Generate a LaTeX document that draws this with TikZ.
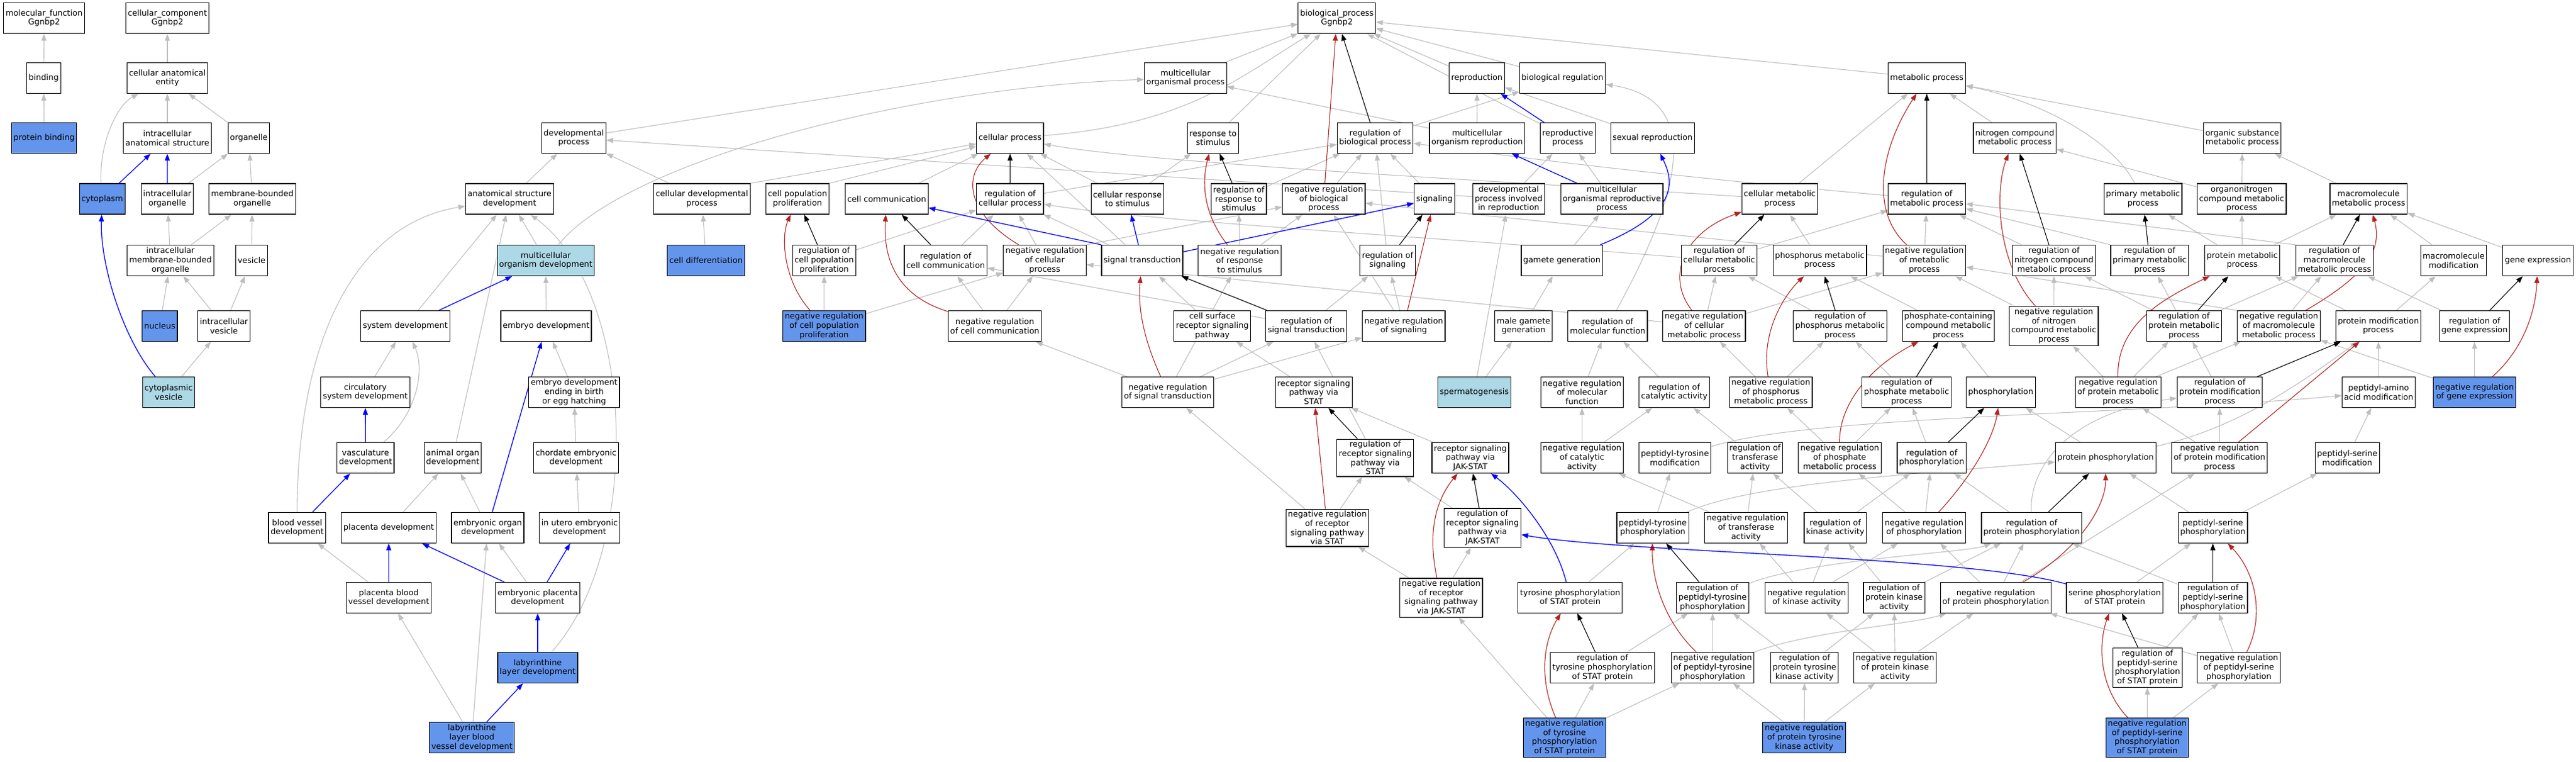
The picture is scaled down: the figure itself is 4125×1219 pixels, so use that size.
\documentclass[tikz,border=0pt]{standalone}
\usepackage{fontspec}
\newfontfamily\dejavu{DejaVu Sans}
\usetikzlibrary{arrows.meta}
\pgfdeclarelayer{bglayer}
\pgfdeclarelayer{edgelayer}
\pgfsetlayers{bglayer,edgelayer,main}
\definecolor{egray}{RGB}{190,190,190}
\definecolor{ered}{RGB}{178,34,34}
\definecolor{eblue}{RGB}{0,0,255}
\definecolor{nblue}{RGB}{100,149,237}
\definecolor{nlight}{RGB}{173,216,230}
\tikzset{
  box/.style={draw=black, line width=1.2pt, fill=white, align=center, inner xsep=3.2pt, inner ysep=3pt, minimum height=49pt, font={\dejavu\fontsize{12.9pt}{14.6pt}\selectfont}},
  hit/.style={box, fill=nblue},
  lit/.style={box, fill=nlight},
  arrowtip/.style={-{Triangle[length=11pt,width=8pt]}},
  eg/.style={draw=egray, line width=1.1pt, arrowtip},
  ek/.style={draw=black, line width=1.1pt, arrowtip},
  er/.style={draw=ered, line width=1.1pt, arrowtip},
  eb/.style={draw=eblue, line width=1.3pt, arrowtip}
}
\begin{document}
\begin{tikzpicture}[x=1pt,y=-1pt]
\begin{pgfonlayer}{bglayer}
\fill[white] (0,0) rectangle (4125,1219);
\end{pgfonlayer}
\useasboundingbox (0,0) rectangle (4125,1219);
% row 0
\node[box] (mf) at (70.6,29) {molecular\_function\\Ggnbp2};
\node[box] (cc0) at (268,29) {cellular\_component\\Ggnbp2};
\node[box] (bp) at (2140.8,29) {biological\_process\\Ggnbp2};
% row 1
\node[box] (bind) at (70,125) {binding};
\node[box] (cae) at (268,125) {cellular anatomical\\entity};
\node[box] (mop) at (1898.3,125) {multicellular\\organismal process};
\node[box] (repro) at (2365,125) {reproduction};
\node[box] (breg) at (2502,125) {biological regulation};
\node[box] (mp) at (3085.4,125) {metabolic process};
% row 2
\node[hit] (pbind) at (70.6,221) {protein binding};
\node[box] (ias) at (268,221) {intracellular\\anatomical structure};
\node[box] (org) at (398.5,221) {organelle};
\node[box] (dp) at (918.7,221) {developmental\\process};
\node[box] (cp) at (1617.4,221) {cellular process};
\node[box] (rs) at (1942.5,221) {response to\\stimulus};
\node[box] (rbp) at (2202,221) {regulation of\\biological process};
\node[box] (mor) at (2365.3,221) {multicellular\\organism reproduction};
\node[box] (rp) at (2510.5,221) {reproductive\\process};
\node[box] (sr) at (2646.3,221) {sexual reproduction};
\node[box] (ncmp) at (3226.3,221) {nitrogen compound\\metabolic process};
\node[box] (osmp) at (3590.5,221) {organic substance\\metabolic process};
% row 3
\node[hit] (cyto) at (163.7,318.5) {cytoplasm};
\node[box] (io) at (267.9,318.5) {intracellular\\organelle};
\node[box] (mbo) at (404,318.5) {membrane-bounded\\organelle};
\node[box] (asd) at (816,318.5) {anatomical structure\\development};
\node[box] (cdp) at (1124,318.5) {cellular developmental\\process};
\node[box] (cpp) at (1277,318.5) {cell population\\proliferation};
\node[box] (ccom) at (1419.9,318.5) {cell communication};
\node[box] (rcp) at (1617.4,318.5) {regulation of\\cellular process};
\node[box] (crs) at (1805.3,318.5) {cellular response\\to stimulus};
\node[box] (rrs) at (1983.7,318.5) {regulation of\\response to\\stimulus};
\node[box] (nrbp) at (2119.7,318.5) {negative regulation\\of biological\\process};
\node[box] (sig) at (2297,318.5) {signaling};
\node[box] (dpir) at (2415.8,318.5) {developmental\\process involved\\in reproduction};
\node[box] (morp) at (2581,318.5) {multicellular\\organismal reproductive\\process};
\node[box] (cmp) at (2850,318.5) {cellular metabolic\\process};
\node[box] (rmp) at (3085.4,318.5) {regulation of\\metabolic process};
\node[box] (pmp) at (3431.5,318.5) {primary metabolic\\process};
\node[box] (oncmp) at (3589.7,318.5) {organonitrogen\\compound metabolic\\process};
\node[box] (mmp) at (3792.8,318.5) {macromolecule\\metabolic process};
% row 4
\node[box] (imbo) at (273,417) {intracellular\\membrane-bounded\\organelle};
\node[box] (ves) at (402.8,417) {vesicle};
\node[lit] (mod) at (874,417) {multicellular\\organism development};
\node[hit] (cdiff) at (1130.6,417) {cell differentiation};
\node[box] (rcpp) at (1319.8,417) {regulation of\\cell population\\proliferation};
\node[box] (rcc) at (1514.3,417) {regulation of\\cell communication};
\node[box] (nrcp) at (1673,417) {negative regulation\\of cellular\\process};
\node[box] (st) at (1829,417) {signal transduction};
\node[box] (nrrs) at (1985,417) {negative regulation\\of response\\to stimulus};
\node[box] (rsig) at (2222,417) {regulation of\\signaling};
\node[box] (gg) at (2501,417) {gamete generation};
\node[box] (rcmp) at (2753,417) {regulation of\\cellular metabolic\\process};
\node[box] (phmp) at (2914,417) {phosphorus metabolic\\process};
\node[box] (nrmp) at (3081.4,417) {negative regulation\\of metabolic\\process};
\node[box] (rncmp) at (3289,417) {regulation of\\nitrogen compound\\metabolic process};
\node[box] (rpmp) at (3442.3,417) {regulation of\\primary metabolic\\process};
\node[box] (prmp) at (3590.5,417) {protein metabolic\\process};
\node[box] (rmmp) at (3738.2,417) {regulation of\\macromolecule\\metabolic process};
\node[box] (mm) at (3929,417) {macromolecule\\modification};
\node[box] (ge) at (4064,417) {gene expression};
% row 5
\node[hit] (nuc) at (255.8,522) {nucleus};
\node[box] (iv) at (358.6,522) {intracellular\\vesicle};
\node[box] (sd) at (649,522) {system development};
\node[box] (ed) at (874.5,522) {embryo development};
\node[hit] (nrcpp) at (1319.8,522) {negative regulation\\of cell population\\proliferation};
\node[box] (nrcc) at (1593,522) {negative regulation\\of cell communication};
\node[box] (csrsp) at (1941.3,522) {cell surface\\receptor signaling\\pathway};
\node[box] (rst) at (2091.8,522) {regulation of\\signal transduction};
\node[box] (nrs) at (2247.8,522) {negative regulation\\of signaling};
\node[box] (mgg) at (2439.7,522) {male gamete\\generation};
\node[box] (rmf) at (2574.4,522) {regulation of\\molecular function};
\node[box] (nrcmp) at (2728.7,522) {negative regulation\\of cellular\\metabolic process};
\node[box] (rphmp) at (2946.5,522) {regulation of\\phosphorus metabolic\\process};
\node[box] (pccmp) at (3119.8,522) {phosphate-containing\\compound metabolic\\process};
\node[box] (nrncmp) at (3288.8,522) {negative regulation\\of nitrogen\\compound metabolic\\process};
\node[box] (rprmp) at (3497.3,522) {regulation of\\protein metabolic\\process};
\node[box] (nrmmp) at (3649,522) {negative regulation\\of macromolecule\\metabolic process};
\node[box] (pmodp) at (3808.5,522) {protein modification\\process};
\node[box] (rge) at (3962.5,522) {regulation of\\gene expression};
% row 6
\node[lit] (cv) at (270,628) {cytoplasmic\\vesicle};
\node[box] (csd) at (585,628) {circulatory\\system development};
\node[box] (edeb) at (919.4,628) {embryo development\\ending in birth\\or egg hatching};
\node[box] (nrst) at (1870,628) {negative regulation\\of signal transduction};
\node[box] (rsps) at (2103.6,628) {receptor signaling\\pathway via\\STAT};
\node[lit] (sperm) at (2360.8,628) {spermatogenesis};
\node[box] (nrmf) at (2533.3,628) {negative regulation\\of molecular\\function};
\node[box] (rcata) at (2681,628) {regulation of\\catalytic activity};
\node[box] (nrphmp) at (2835.7,628) {negative regulation\\of phosphorus\\metabolic process};
\node[box] (rphamp) at (3053,628) {regulation of\\phosphate metabolic\\process};
\node[box] (phos) at (3203.8,628) {phosphorylation};
\node[box] (nrprmp) at (3391.8,628) {negative regulation\\of protein metabolic\\process};
\node[box] (rpmodp) at (3554.6,628) {regulation of\\protein modification\\process};
\node[box] (paam) at (3809,628) {peptidyl-amino\\acid modification};
\node[hit] (nrge) at (3962.5,628) {negative regulation\\of gene expression};
% row 7
\node[box] (vd) at (585.3,733) {vasculature\\development};
\node[box] (aod) at (725,733) {animal organ\\development};
\node[box] (ced) at (922.4,733) {chordate embryonic\\development};
\node[box] (rrsps) at (2202.2,733) {regulation of\\receptor signaling\\pathway via\\STAT};
\node[box] (rspjs) at (2354.4,733) {receptor signaling\\pathway via\\JAK-STAT};
\node[box] (nrcata) at (2533.3,733) {negative regulation\\of catalytic\\activity};
\node[box] (ptm) at (2682,733) {peptidyl-tyrosine\\modification};
\node[box] (rta) at (2810.4,733) {regulation of\\transferase\\activity};
\node[box] (nrphamp) at (2946,733) {negative regulation\\of phosphate\\metabolic process};
\node[box] (rphos) at (3093.3,733) {regulation of\\phosphorylation};
\node[box] (pp) at (3371.7,733) {protein phosphorylation};
\node[box] (nrpmodp) at (3554.2,733) {negative regulation\\of protein modification\\process};
\node[box] (psm) at (3758.7,733) {peptidyl-serine\\modification};
% row 8
\node[box] (bvd) at (475.8,845) {blood vessel\\development};
\node[box] (pd) at (622.5,845) {placenta development};
\node[box] (eod) at (781,845) {embryonic organ\\development};
\node[box] (iued) at (928,845) {in utero embryonic\\development};
\node[box] (nrrsps) at (2125.4,845) {negative regulation\\of receptor\\signaling pathway\\via STAT};
\node[box] (rrspjs) at (2374,845) {regulation of\\receptor signaling\\pathway via\\JAK-STAT};
\node[box] (ptp) at (2646.6,845) {peptidyl-tyrosine\\phosphorylation};
\node[box] (nrta) at (2796,845) {negative regulation\\of transferase\\activity};
\node[box] (rka) at (2938.8,845) {regulation of\\kinase activity};
\node[box] (nrphos) at (3081,845) {negative regulation\\of phosphorylation};
\node[box] (rpp) at (3253.3,845) {regulation of\\protein phosphorylation};
\node[box] (psp) at (3543.5,845) {peptidyl-serine\\phosphorylation};
% row 9
\node[box] (pbvd) at (622.5,957) {placenta blood\\vessel development};
\node[box] (epd) at (861,957) {embryonic placenta\\development};
\node[box] (nrrspjs) at (2307.7,957) {negative regulation\\of receptor\\signaling pathway\\via JAK-STAT};
\node[box] (tpsp) at (2514.3,957) {tyrosine phosphorylation\\of STAT protein};
\node[box] (rptp) at (2742.4,957) {regulation of\\peptidyl-tyrosine\\phosphorylation};
\node[box] (nrka) at (2893,957) {negative regulation\\of kinase activity};
\node[box] (rpka) at (3033,957) {regulation of\\protein kinase\\activity};
\node[box] (nrpp) at (3195.8,957) {negative regulation\\of protein phosphorylation};
\node[box] (spsp) at (3386.3,957) {serine phosphorylation\\of STAT protein};
\node[box] (rpsp) at (3543.5,957) {regulation of\\peptidyl-serine\\phosphorylation};
% row 10
\node[hit] (lld) at (861,1069) {labyrinthine\\layer development};
\node[box] (rtpsp) at (2566,1069) {regulation of\\tyrosine phosphorylation\\of STAT protein};
\node[box] (nrptp) at (2742.4,1069) {negative regulation\\of peptidyl-tyrosine\\phosphorylation};
\node[box] (rptka) at (2889.6,1069) {regulation of\\protein tyrosine\\kinase activity};
\node[box] (nrpka) at (3034.6,1069) {negative regulation\\of protein kinase\\activity};
\node[box] (rpspsp) at (3438.7,1069) {regulation of\\peptidyl-serine\\phosphorylation\\of STAT protein};
\node[box] (nrpsp) at (3585,1069) {negative regulation\\of peptidyl-serine\\phosphorylation};
% row 11
\node[hit] (llbvd) at (755.7,1181) {labyrinthine\\layer blood\\vessel development};
\node[hit] (nrtpsp) at (2505.3,1181) {negative regulation\\of tyrosine\\phosphorylation\\of STAT protein};
\node[hit] (nrptka) at (2889,1181) {negative regulation\\of protein tyrosine\\kinase activity};
\node[hit] (nrpspsp) at (3438.3,1181) {negative regulation\\of peptidyl-serine\\phosphorylation\\of STAT protein};

\begin{pgfonlayer}{edgelayer}
% gray straight edges
\foreach \a/\b in {bind/mf, pbind/bind, cae/cc0, ias/cae, org/cae, io/org, mbo/org, imbo/io, imbo/mbo, ves/mbo, nuc/imbo, iv/imbo, iv/ves, cv/iv,
 asd/dp, cdp/dp, dpir/dp, dp/bp, mod/asd, sd/asd, aod/asd, ed/mod, edeb/ed, csd/sd, ced/edeb, pd/aod, eod/aod, iued/ced, pbvd/bvd, epd/eod, llbvd/pbvd, llbvd/eod, cdiff/cdp,
 mop/bp, rs/bp, rp/bp, repro/bp, breg/bp, mp/bp,
 mor/mop, mor/repro, sr/repro, dpir/rp, morp/rp, gg/morp, mgg/gg, sperm/mgg, sperm/dpir, rbp/breg,
 ccom/cp, st/cp, crs/cp, crs/rs,
 rcp/rbp, rrs/rbp, nrbp/rbp, sig/rbp, rsig/rbp,
 rcc/rcp, nrcp/rcp, st/rcp, rcpp/rcp,
 nrcpp/rcpp, nrcpp/nrcp, nrcc/rcc, nrcc/nrcp, nrrs/rrs, nrrs/nrbp, nrs/rsig, nrs/nrbp, nrmp/nrbp, nrcmp/nrcp,
 csrsp/st, rst/rsig, rst/rcc, nrst/nrcc, nrst/nrrs, nrst/rst, nrst/nrs,
 rsps/csrsp, rrsps/rst, nrrsps/rrsps, nrrsps/nrst, rspjs/rsps, rrspjs/rrsps, nrrspjs/rrspjs, nrrspjs/nrrsps, tpsp/ptp, rtpsp/rptp, nrtpsp/rtpsp, nrtpsp/nrptp, nrtpsp/nrrspjs,
 cmp/mp, ncmp/mp, osmp/mp, oncmp/ncmp, oncmp/osmp, mmp/osmp, prmp/pmp, prmp/oncmp, prmp/mmp, mm/mmp, ge/mmp,
 phmp/cmp, rcmp/rmp, nrmp/rmp, rncmp/rmp, nrcmp/rcmp, nrcmp/nrmp, rphmp/rcmp, nrncmp/rncmp, nrncmp/nrmp, nrmmp/rmmp,
 pccmp/phmp, nrphmp/rphmp, nrphmp/nrcmp, rphamp/rphmp,
 rprmp/rncmp, rprmp/rpmp, rprmp/rmmp, pmodp/prmp, pmodp/mm, rge/rmmp,
 nrprmp/nrncmp, nrprmp/rprmp, nrprmp/nrmmp, rpmodp/rprmp, nrge/rge, nrge/nrmmp, paam/pmodp,
 nrcata/rcata, nrcata/nrmf, nrmf/rmf, rcata/rmf, rta/rcata, nrphamp/nrphmp, nrphamp/rphamp, rphos/rphamp, phos/pccmp, pp/phos, nrpmodp/rpmodp, nrpmodp/nrprmp, psm/paam,
 ptp/ptm, nrta/rta, nrta/nrcata, rka/rta, rka/rphos, nrphos/rphos, nrphos/nrphamp, rpp/rphos, psp/pp, psp/psm,
 nrka/rka, nrka/nrta, nrka/nrphos, rpka/rka, rpka/rpp, nrpp/rpp, nrpp/nrphos, nrpp/nrpmodp, spsp/psp, rpsp/rpp,
 nrptp/rptp, rptka/rptp, rptka/rpka, nrpka/rpka, nrpka/nrka, nrpka/nrpp, rpspsp/rpsp, nrpsp/rpsp, nrpsp/nrpp,
 nrptka/rptka, nrptka/nrpka, nrptka/nrptp, nrpspsp/rpspsp, nrpspsp/nrpsp}
 \draw[eg] (\a) -- (\b);
% gray edges leaving from a corner
\draw[eg] (cdp.north east) -- (cp);
\draw[eg] (cpp.north east) -- (cp);
\draw[eg] (nrcp.north east) -- (nrbp);
\draw[eg] (rmmp.north west) -- (rmp);
\draw[eg] (rpmp.north west) -- (rmp);
\draw[eg] (nrmmp.north west) -- (nrmp);
% gray curves
\draw[eg] (cyto) .. controls (158,235) and (185,170) .. (cae);
\draw[eg] (bvd) .. controls (476,560) and (560,360) .. (asd);
\draw[eg] (lld) .. controls (1030,880) and (1020,470) .. (asd);
\draw[eg] (vd) .. controls (670,660) and (680,590) .. (sd);
\draw[eg] (mod) .. controls (1000,260) and (1450,140) .. (mop);
\draw[eg] (cp) .. controls (1900,200) and (1990,120) .. (bp);
\draw[eg] (cmp) .. controls (2400,290) and (1850,262) .. (cp);
\draw[eg] (rcmp) .. controls (2300,380) and (1850,355) .. (rcp);
\draw[eg] (rmp) .. controls (2700,285) and (2450,255) .. (rbp);
\draw[eg] (rmf) .. controls (2680,330) and (2740,160) .. (breg);
\draw[eg] (pmp) .. controls (3380,220) and (3260,160) .. (mp);
\draw[eg] (ptm) .. controls (2900,665) and (3400,665) .. (paam);
\draw[eg] (ptp) .. controls (2800,775) and (3050,760) .. (pp);
\draw[eg] (rpp) .. controls (3250,740) and (3320,660) .. (rpmodp);
\draw[eg] (rptp) .. controls (2900,895) and (3150,885) .. (rpp);
\draw[eg] (nrptp) .. controls (2900,1010) and (3060,1000) .. (nrpp);
\draw[eg] (pp) .. controls (3560,690) and (3650,640) .. (pmodp);
% black edges
\foreach \a/\b in {rbp/bp, rcp/cp, rrs/rs, rcpp/cpp, rcc/ccom, rsig/sig, rst/st, rrsps/rsps, rrspjs/rspjs, rtpsp/tpsp, rptp/ptp, rmp/mp, rcmp/cmp, rncmp/ncmp, rpmp/pmp, rmmp/mmp, rphmp/phmp, rphamp/pccmp, rprmp/prmp, rge/ge, rpmodp/pmodp, rphos/phos, rpp/pp, rpsp/psp, rpspsp/spsp}
 \draw[ek] (\a) -- (\b);
% red edges
\foreach \a/\b in {nrbp/bp, nrs/sig, nrrsps/rsps, nrpmodp/pmodp}
 \draw[er] (\a) -- (\b);
\draw[er] (nrmp) .. controls (2995,340) and (3010,240) .. (mp);
\draw[er] (nrncmp) .. controls (3195,420) and (3195,300) .. (ncmp);
\draw[er] (nrmmp) .. controls (3790,440) and (3815,400) .. (mmp);
\draw[er] (nrprmp) .. controls (3390,520) and (3460,480) .. (prmp);
\draw[er] (nrge) .. controls (4040,560) and (4060,500) .. (ge);
\draw[er] (nrphos) .. controls (3160,760) and (3192,700) .. (phos);
\draw[er] (nrpp) .. controls (3330,880) and (3372,810) .. (pp);
\draw[er] (nrpsp) .. controls (3625,990) and (3615,920) .. (psp);
\draw[er] (nrpspsp) .. controls (3360,1100) and (3360,1030) .. (spsp);
\draw[er] (nrtpsp) .. controls (2465,1090) and (2470,1030) .. (tpsp);
\draw[er] (nrptp) .. controls (2660,990) and (2645,920) .. (ptp);
\draw[er] (nrrspjs) .. controls (2285,850) and (2300,800) .. (rspjs);
\draw[er] (nrphamp) .. controls (2945,650) and (2990,590) .. (pccmp);
\draw[er] (nrphmp) .. controls (2820,540) and (2850,480) .. (phmp);
\draw[er] (nrcmp) .. controls (2665,440) and (2700,370) .. (cmp);
\draw[er] (nrrs) .. controls (1925,340) and (1925,290) .. (rs);
\draw[er] (nrcp) .. controls (1545,340) and (1545,280) .. (cp);
\draw[er] (nrcc) .. controls (1425,470) and (1415,400) .. (ccom);
\draw[er] (nrcpp) .. controls (1255,450) and (1250,380) .. (cpp);
\draw[er] (nrst) .. controls (1830,540) and (1822,490) .. (st);
% blue edges
\foreach \a/\b in {cyto/ias, io/ias, sd/mod, vd/csd, bvd/vd, eod/ed, pbvd/pd, epd/pd, epd/iued, lld/epd, llbvd/lld, rp/repro, morp/mor, st/crs, st/sig}
 \draw[eb] (\a) -- (\b);
\draw[eb] (st.north west) -- (ccom);
\draw[eb] (cv) .. controls (195,540) and (160,420) .. (cyto);
\draw[eb] (gg) .. controls (2690,340) and (2680,290) .. (sr);
\draw[eb] (tpsp) .. controls (2490,860) and (2430,790) .. (rspjs);
\draw[eb] (spsp) .. controls (3150,890) and (2600,885) .. (rrspjs);
\end{pgfonlayer}
\end{tikzpicture}
\end{document}
